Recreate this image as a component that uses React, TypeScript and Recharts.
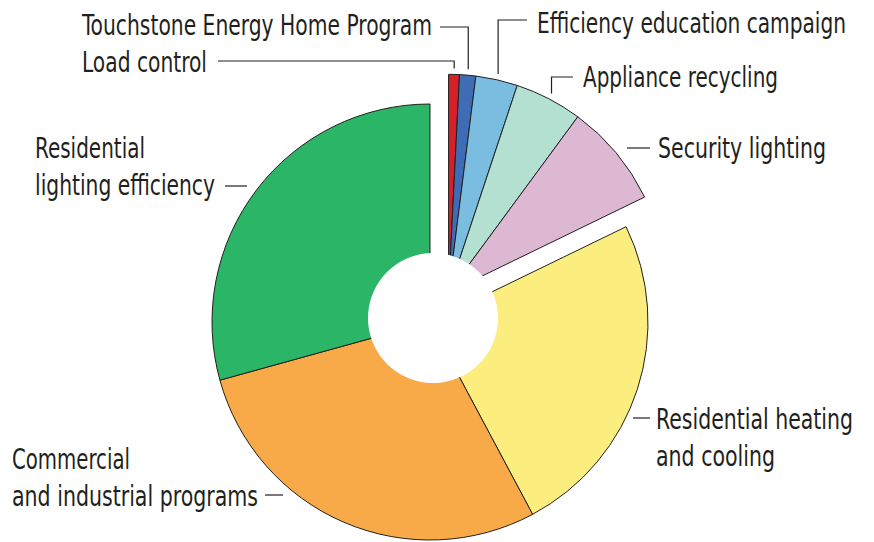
import { PieChart, Pie, Cell } from "recharts";

const CATEGORIES = [
  "Load control",
  "Touchstone Energy Home Program",
  "Efficiency education campaign",
  "Appliance recycling",
  "Security lighting",
  "Residential heating and cooling",
  "Commercial and industrial programs",
  "Residential lighting efficiency",
];
const SHARES = [0.8, 1.2, 3.1, 5.0, 7.7, 24.4, 28.5, 29.3];
const EXPLODED = [true, true, true, true, true, false, false, false];

const COLORS = [
  "#d42027",
  "#3f6db5",
  "#7bbde0",
  "#b4e0d1",
  "#dcb8d2",
  "#fbee7f",
  "#f9aa48",
  "#2bb566",
];

// label text + placement (text lines with their widths, x, first baseline, leader)
const LABEL_LAYOUT = [
  { lines: ["Load control"], widths: [125], x: 82, y: 72, elbow: { y: 61, from: 218 } },
  { lines: ["Touchstone Energy Home Program"], widths: [350], x: 82, y: 35, elbow: { y: 27, from: 440 } },
  { lines: ["Efficiency education campaign"], widths: [309], x: 537, y: 33, elbow: { y: 20, from: 527 } },
  { lines: ["Appliance recycling"], widths: [195], x: 583, y: 87, elbow: { y: 77, from: 573 } },
  { lines: ["Security lighting"], widths: [168], x: 658, y: 158, dash: { y: 148, x1: 627, x2: 650 } },
  { lines: ["Residential heating", "and cooling"], widths: [197, 119], x: 656, y: 429, dash: { y: 418, x1: 633, x2: 650 } },
  { lines: ["Commercial", "and industrial programs"], widths: [118, 246], x: 12, y: 469, dash: { y: 495, x1: 265, x2: 283 } },
  { lines: ["Residential", "lighting efficiency"], widths: [110, 180], x: 35, y: 158, dash: { y: 186, x1: 225, x2: 247 } },
];

const data = CATEGORIES.map((name, i) => ({ name, value: SHARES[i] }));

const CX = 430;
const CY = 322;
const R = 218;
const EXPLODE_DIST = 35;

const total = SHARES.reduce((s, v) => s + v, 0);
const groupShare = SHARES.filter((_, i) => EXPLODED[i]).reduce((s, v) => s + v, 0);
const groupMid = ((groupShare / 2) / total) * 2 * Math.PI; // clockwise from top
const DX = EXPLODE_DIST * Math.sin(groupMid);
const DY = -EXPLODE_DIST * Math.cos(groupMid);

const INK = "#231f20";
const FONT = "'Liberation Sans Narrow', 'DejaVu Sans Condensed', sans-serif";
const RAD = Math.PI / 180;

const makeLabel = (exploded: boolean) => (props: any) => {
  const { index, cx, cy, midAngle, outerRadius } = props;
  if (EXPLODED[index] !== exploded) return null;
  const lay = LABEL_LAYOUT[index];
  const px = cx + (outerRadius + 6) * Math.cos(-midAngle * RAD);
  const py = cy + (outerRadius + 6) * Math.sin(-midAngle * RAD);
  return (
    <g>
      {lay.elbow && (
        <polyline
          points={`${lay.elbow.from},${lay.elbow.y} ${px},${lay.elbow.y} ${px},${py}`}
          fill="none"
          stroke={INK}
          strokeWidth={1.2}
        />
      )}
      {lay.dash && (
        <line x1={lay.dash.x1} x2={lay.dash.x2} y1={lay.dash.y} y2={lay.dash.y} stroke={INK} strokeWidth={1.2} />
      )}
      {lay.lines.map((l, k) => (
        <text
          key={k}
          x={lay.x}
          y={lay.y + k * 37}
          fill={INK}
          fontSize={28}
          fontFamily={FONT}
          textLength={lay.widths[k]}
          lengthAdjust="spacingAndGlyphs"
        >
          {l}
        </text>
      ))}
    </g>
  );
};

export default function App() {
  return (
    <div style={{ position: "absolute", left: 0, top: 0, background: "#fff" }}>
      <PieChart width={874} height={542} margin={{ top: 0, right: 0, bottom: 0, left: 0 }}>
        {/* main pie */}
        <Pie
          data={data}
          dataKey="value"
          cx={CX}
          cy={CY}
          outerRadius={R}
          innerRadius={0}
          startAngle={90}
          endAngle={-270}
          isAnimationActive={false}
          label={makeLabel(false)}
          labelLine={false}
        >
          {data.map((d, i) => (
            <Cell
              key={i}
              fill={EXPLODED[i] ? "transparent" : COLORS[i]}
              stroke={EXPLODED[i] ? "none" : INK}
              strokeWidth={1}
            />
          ))}
        </Pie>
        {/* exploded group */}
        <Pie
          data={data}
          dataKey="value"
          cx={CX + DX}
          cy={CY + DY}
          outerRadius={R}
          innerRadius={0}
          startAngle={90}
          endAngle={-270}
          isAnimationActive={false}
          label={makeLabel(true)}
          labelLine={false}
        >
          {data.map((d, i) => (
            <Cell
              key={i}
              fill={EXPLODED[i] ? COLORS[i] : "transparent"}
              stroke={EXPLODED[i] ? INK : "none"}
              strokeWidth={1}
            />
          ))}
        </Pie>
        {/* hole */}
        <Pie
          data={[{ name: "hole", value: 1 }]}
          dataKey="value"
          cx={CX + 3}
          cy={CY - 4}
          outerRadius={65}
          innerRadius={0}
          stroke="none"
          fill="#ffffff"
          isAnimationActive={false}
        />
      </PieChart>
    </div>
  );
}
